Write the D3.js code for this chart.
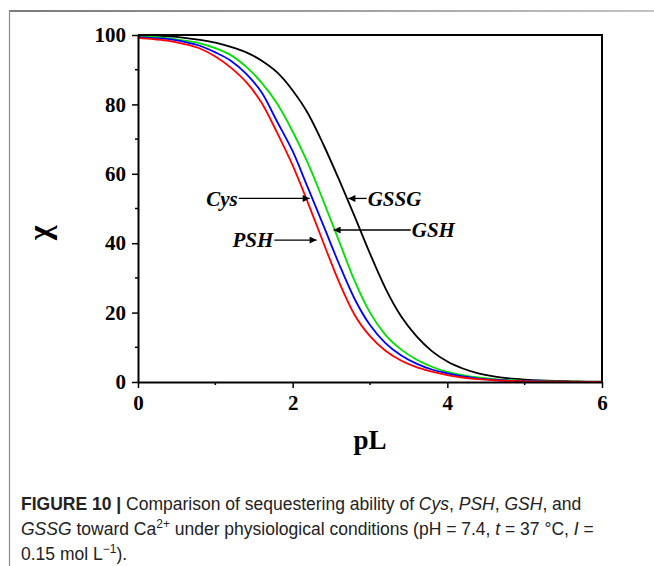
<!DOCTYPE html>
<html>
<head>
<meta charset="utf-8">
<script src="https://cdn.jsdelivr.net/npm/d3@7"></script>
<style>
  body { margin: 0; background: #fff; }
  svg { display: block; }
</style>
</head>
<body>
<div id="chart"></div>
<script>
// -------- Data --------
const pL = [0, 0.2, 0.4, 0.6, 0.8, 1.0, 1.2, 1.4, 1.6, 1.8, 2.0, 2.2, 2.4, 2.6, 2.8, 3.0,
            3.2, 3.4, 3.6, 3.8, 4.0, 4.2, 4.4, 4.6, 4.8, 5.0, 5.2, 5.4, 5.6, 5.8, 6.0];

const psh  = [99.2, 98.8, 98.3, 97.4, 96.1, 93.8, 90.6, 86.4, 80.4, 71.8, 62.4, 51.5, 40.0, 28.8, 19.4, 13.2,
              9.0, 6.2, 4.3, 3.0, 2.0, 1.3, 0.8, 0.5, 0.3, 0.2, 0.1, 0.1, 0.05, 0.03, 0.02];
const cys  = [99.4, 99.1, 98.8, 98.0, 96.9, 95.0, 92.6, 88.8, 83.4, 75.0, 66.5, 55.8, 45.0, 34.0, 24.0, 16.4,
              11.2, 7.7, 5.3, 3.6, 2.5, 1.6, 1.0, 0.65, 0.4, 0.25, 0.15, 0.1, 0.06, 0.04, 0.02];
const gsh  = [99.6, 99.4, 99.0, 98.4, 97.6, 96.2, 94.2, 90.8, 86.2, 80.2, 72.2, 62.9, 52.0, 40.6, 29.2, 20.0,
              13.6, 9.4, 6.5, 4.4, 2.9, 2.0, 1.3, 0.85, 0.55, 0.35, 0.22, 0.14, 0.09, 0.05, 0.03];
const gssg = [99.9, 99.8, 99.6, 99.2, 98.6, 97.8, 96.6, 95.0, 92.6, 89.2, 84.0, 77.3, 68.3, 58.3, 47.8, 37.0,
              27.0, 19.0, 13.2, 8.9, 5.9, 3.9, 2.5, 1.6, 1.05, 0.7, 0.45, 0.3, 0.2, 0.12, 0.08];

const seriesNames = ['GSSG', 'GSH', 'Cys', 'PSH'];
const seriesValues = [gssg, gsh, cys, psh];

const xTicks = [0, 2, 4, 6];
const yTicks = [0, 20, 40, 60, 80, 100];

// annotations: arrow tip (pL, chi), label edge (pL)
const notes = [
  { label: 'Cys',  tip: [2.22, 52.9], textAt: 1.29, side: 'left'  },
  { label: 'PSH',  tip: [2.31, 40.9], textAt: 1.75, side: 'left'  },
  { label: 'GSSG', tip: [2.72, 52.9], textAt: 2.97, side: 'right' },
  { label: 'GSH',  tip: [2.53, 43.8], textAt: 3.54, side: 'right' }
];

// -------- Dimensions --------
const svgWidth = 654, svgHeight = 566;
const plot = { left: 138, right: 602, top: 35, bottom: 382 };

const svg = d3.select('#chart')
  .append('svg')
    .attr('width', svgWidth)
    .attr('height', svgHeight);

// page frame (top rule + left rule)
const grad = svg.append('defs').append('linearGradient')
    .attr('id', 'rule')
    .attr('x1', '0%').attr('x2', '100%');
grad.append('stop').attr('offset', '0%').attr('stop-color', '#7a7a7a');
grad.append('stop').attr('offset', '100%').attr('stop-color', '#c4c4c4');
svg.append('rect')
    .attr('x', 9).attr('y', 10)
    .attr('width', svgWidth - 9).attr('height', 2)
    .attr('fill', 'url(#rule)');
svg.append('line')
    .attr('x1', 9.5).attr('x2', 9.5)
    .attr('y1', 10).attr('y2', svgHeight)
    .attr('stroke', '#8a8a8a')
    .attr('stroke-width', 1.2);

// -------- Scales --------
const x = d3.scaleLinear().domain([0, 6]).range([plot.left, plot.right]);
const y = d3.scaleLinear().domain([0, 100]).range([plot.bottom, plot.top]);

const color = d3.scaleOrdinal()
  .domain(seriesNames)
  .range(['#000000', '#00e000', '#0000ff', '#ff0000']);

// -------- Curves --------
const line = d3.line()
  .x(d => x(d[0]))
  .y(d => y(d[1]))
  .curve(d3.curveMonotoneX);

svg.append('g')
  .selectAll('path')
  .data(seriesNames.map((name, i) => ({ name, pts: pL.map((p, j) => [p, seriesValues[i][j]]) })))
  .join('path')
    .attr('fill', 'none')
    .attr('stroke', d => color(d.name))
    .attr('stroke-width', 1.8)
    .attr('stroke-linejoin', 'round')
    .attr('d', d => line(d.pts));

// -------- Axes --------
const serif = '"Liberation Serif", "Times New Roman", serif';

const xAxis = svg.append('g')
    .attr('transform', `translate(0,${plot.bottom})`)
    .call(d3.axisBottom(x).tickValues(xTicks).tickFormat(d3.format('d'))
      .tickSize(6).tickSizeOuter(0).tickPadding(7))
    .call(g => g.selectAll('.tick text')
      .attr('font-family', serif).attr('font-weight', 'bold').attr('font-size', 21).attr('fill', '#000'));
xAxis.append('g')
  .selectAll('line')
  .data([1, 3, 5])
  .join('line')
    .attr('x1', d => x(d)).attr('x2', d => x(d))
    .attr('y1', 0).attr('y2', 3)
    .attr('stroke', '#000').attr('stroke-width', 1.5);

const yAxis = svg.append('g')
    .attr('transform', `translate(${plot.left},0)`)
    .call(d3.axisLeft(y).tickValues(yTicks).tickSize(6).tickSizeOuter(0).tickPadding(6))
    .call(g => g.selectAll('.tick text')
      .attr('font-family', serif).attr('font-weight', 'bold').attr('font-size', 21).attr('fill', '#000'));
yAxis.append('g')
  .selectAll('line')
  .data([10, 30, 50, 70, 90])
  .join('line')
    .attr('y1', d => y(d)).attr('y2', d => y(d))
    .attr('x1', 0).attr('x2', -3)
    .attr('stroke', '#000').attr('stroke-width', 1.5);

svg.selectAll('.domain').attr('stroke-width', 2);
svg.selectAll('.tick line').attr('stroke-width', 1.5);

// top & right frame
svg.append('path')
    .attr('d', `M${plot.left},${plot.top}H${plot.right}V${plot.bottom}`)
    .attr('fill', 'none')
    .attr('stroke', '#000')
    .attr('stroke-width', 2);

// axis titles
svg.append('text')
    .attr('transform', `translate(50,${y(43)}) rotate(-90)`)
    .attr('text-anchor', 'middle')
    .attr('font-family', serif)
    .attr('font-weight', 'bold')
    .attr('font-size', 32)
    .text('χ');

svg.append('text')
    .attr('x', (plot.left + plot.right) / 2)
    .attr('y', 449)
    .attr('text-anchor', 'middle')
    .attr('font-family', serif)
    .attr('font-weight', 'bold')
    .attr('font-size', 27)
    .text('pL');

// -------- Annotations --------
svg.append('defs').append('marker')
    .attr('id', 'arrow')
    .attr('viewBox', '0 0 10 10')
    .attr('refX', 10).attr('refY', 5)
    .attr('markerWidth', 9).attr('markerHeight', 7)
    .attr('markerUnits', 'userSpaceOnUse')
    .attr('orient', 'auto')
  .append('path')
    .attr('d', 'M0,0L10,5L0,10z')
    .attr('fill', '#000');

const note = svg.append('g').selectAll('g').data(notes).join('g');
note.append('line')
    .attr('x1', d => x(d.textAt) + (d.side === 'left' ? 1 : -1))
    .attr('x2', d => x(d.tip[0]))
    .attr('y1', d => y(d.tip[1]))
    .attr('y2', d => y(d.tip[1]))
    .attr('stroke', '#000')
    .attr('stroke-width', 1.3)
    .attr('marker-end', 'url(#arrow)');
note.append('text')
    .attr('x', d => x(d.textAt))
    .attr('y', d => y(d.tip[1]))
    .attr('dy', '0.35em')
    .attr('text-anchor', d => d.side === 'left' ? 'end' : 'start')
    .attr('font-family', serif)
    .attr('font-weight', 'bold')
    .attr('font-style', 'italic')
    .attr('font-size', 21)
    .text(d => d.label);

// -------- Caption --------
const sans = '"Liberation Sans", Arial, sans-serif';
const cap = svg.append('g')
    .attr('font-family', sans)
    .attr('font-size', 17.5)
    .attr('fill', '#222');

const capLines = [
  [['FIGURE 10 | ', 'b'], ['Comparison of sequestering ability of '], ['Cys', 'i'], [', '], ['PSH', 'i'], [', '], ['GSH', 'i'], [', and']],
  [['GSSG', 'i'], [' toward Ca'], ['2+', 'sup'], [' under physiological conditions (pH = 7.4, '], ['t', 'i'], [' = 37 °C, '], ['I', 'i'], [' =']],
  [['0.15 mol L'], ['−1', 'sup'], [').']]
];

capLines.forEach((parts, i) => {
  const t = cap.append('text').attr('x', 21).attr('y', 510 + i * 25);
  parts.forEach(([s, kind]) => {
    const sp = t.append('tspan').text(s);
    if (kind === 'b') sp.attr('font-weight', 'bold');
    if (kind === 'i') sp.attr('font-style', 'italic');
    if (kind === 'sup') sp.attr('font-size', 12).attr('baseline-shift', '7');
  });
});
</script>
</body>
</html>
